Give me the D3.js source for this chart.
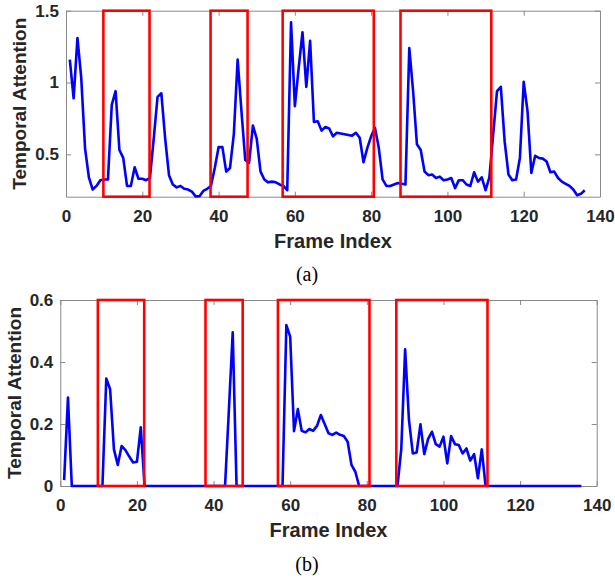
<!DOCTYPE html>
<html>
<head>
<meta charset="utf-8">
<script src="https://cdn.jsdelivr.net/npm/d3@7"></script>
<style>
  html, body { margin: 0; padding: 0; background: #fff; }
  svg { display: block; }
  .tick text { font-family: "Liberation Sans", Arial, sans-serif; font-weight: bold; font-size: 17px; fill: #262626; }
</style>
</head>
<body>
<div id="chart"></div>
<script>
// frame indices 1..136
const frames = d3.range(1, 137);

// (a) temporal attention, before thresholding
const attentionA = [
  1.16, 0.89, 1.31, 1.03, 0.54, 0.34, 0.255, 0.28, 0.32, 0.325,
  0.325, 0.845, 0.94, 0.53, 0.475, 0.28, 0.28, 0.41, 0.33, 0.33,
  0.32, 0.335, 0.61, 0.90, 0.925, 0.61, 0.355, 0.29, 0.27, 0.28,
  0.26, 0.255, 0.24, 0.207, 0.208, 0.245, 0.26, 0.28, 0.405, 0.55,
  0.55, 0.38, 0.405, 0.64, 1.16, 0.80, 0.46, 0.44, 0.70, 0.61,
  0.38, 0.325, 0.305, 0.31, 0.305, 0.29, 0.28, 0.25, 1.42, 0.835,
  1.10, 1.35, 0.97, 1.29, 0.725, 0.73, 0.665, 0.69, 0.68, 0.625,
  0.65, 0.645, 0.64, 0.635, 0.63, 0.65, 0.615, 0.445, 0.545, 0.625,
  0.685, 0.545, 0.325, 0.28, 0.28, 0.29, 0.30, 0.295, 0.29, 1.24,
  0.94, 0.57, 0.53, 0.38, 0.355, 0.36, 0.335, 0.345, 0.32, 0.325,
  0.335, 0.265, 0.32, 0.32, 0.29, 0.28, 0.375, 0.31, 0.34, 0.25,
  0.34, 0.64, 0.94, 0.97, 0.59, 0.36, 0.32, 0.325, 0.475, 1.005,
  0.80, 0.37, 0.49, 0.475, 0.47, 0.45, 0.375, 0.38, 0.335, 0.31,
  0.295, 0.28, 0.255, 0.215, 0.225, 0.25
];

// (b) temporal attention, after thresholding
const attentionB = [
  0.019, 0.285, 0, 0, 0, 0, 0, 0, 0, 0,
  0, 0.347, 0.312, 0.118, 0.068, 0.129, 0.116, 0.095, 0.076, 0.078,
  0.189, 0, 0, 0, 0, 0, 0, 0, 0, 0,
  0, 0, 0, 0, 0, 0, 0, 0, 0, 0,
  0, 0, 0, 0.245, 0.496, 0, 0, 0, 0, 0,
  0, 0, 0, 0, 0, 0, 0, 0, 0.519, 0.482,
  0.177, 0.248, 0.178, 0.173, 0.184, 0.178, 0.194, 0.229, 0.2, 0.17,
  0.165, 0.172, 0.165, 0.161, 0.143, 0.068, 0.046, 0, 0, 0,
  0, 0, 0, 0, 0, 0, 0, 0, 0.12, 0.441,
  0.213, 0.105, 0.108, 0.199, 0.103, 0.152, 0.175, 0.135, 0.127, 0.159,
  0.073, 0.161, 0.135, 0.132, 0.105, 0.121, 0.082, 0.103, 0.025, 0.118,
  0, 0, 0, 0, 0, 0, 0, 0, 0, 0,
  0, 0, 0, 0, 0, 0, 0, 0, 0, 0,
  0, 0, 0, 0, 0, 0
];

// highlighted segments (frame ranges)
const segments = [[9.8, 21.9], [37.9, 47.6], [56.8, 80.7], [87.7, 111.5]];

const xTicks = [0, 20, 40, 60, 80, 100, 120, 140];
const yTicksA = [0.5, 1, 1.5];
const yTicksB = [0, 0.2, 0.4, 0.6];

const W = 615, H = 580;
const svg = d3.select("#chart").append("svg").attr("width", W).attr("height", H);

function drawPanel(opt) {
  const x = d3.scaleLinear().domain([0, 140]).range([opt.left, opt.right]);
  const y = d3.scaleLinear().domain(opt.yDomain).range([opt.bottom, opt.top]);
  const g = svg.append("g");

  // box + inward ticks on all four sides
  const axes = [
    { a: d3.axisBottom(x).tickValues(xTicks).tickFormat(d3.format("d")), t: `translate(0,${opt.bottom})`, labels: true },
    { a: d3.axisTop(x).tickValues(xTicks), t: `translate(0,${opt.top})`, labels: false },
    { a: d3.axisLeft(y).tickValues(opt.yTicks).tickFormat(d => String(d)), t: `translate(${opt.left},0)`, labels: true },
    { a: d3.axisRight(y).tickValues(opt.yTicks), t: `translate(${opt.right},0)`, labels: false }
  ];
  axes.forEach((ax, i) => {
    ax.a.tickSizeInner(-5).tickSizeOuter(0).tickPadding(i === 0 ? 13 : 7);
    const ag = g.append("g").attr("transform", ax.t).call(ax.a);
    ag.select(".domain").attr("stroke", "#8a8a8a").attr("stroke-width", 1);
    ag.selectAll(".tick line").attr("stroke", "#8a8a8a");
    if (!ax.labels) ag.selectAll(".tick text").remove();
  });

  const line = d3.line()
    .x((d, i) => x(frames[i]))
    .y(d => y(d));

  g.append("path")
    .datum(opt.values)
    .attr("fill", "none")
    .attr("stroke", "#0000ff")
    .attr("stroke-width", 2.6)
    .attr("stroke-linejoin", "round")
    .attr("d", line);

  g.selectAll("rect.seg")
    .data(segments)
    .join("rect")
    .attr("class", "seg")
    .attr("x", d => x(d[0]))
    .attr("width", d => x(d[1]) - x(d[0]))
    .attr("y", opt.top)
    .attr("height", opt.bottom - opt.top)
    .attr("fill", "none")
    .attr("stroke", "#ff0000")
    .attr("stroke-width", 2.6);

  g.append("text")
    .attr("transform", `translate(${opt.yLabelX},${(opt.top + opt.bottom) / 2}) rotate(-90)`)
    .attr("text-anchor", "middle")
    .attr("font-family", "Liberation Sans, Arial, sans-serif")
    .attr("font-weight", "bold")
    .attr("font-size", 19)
    .attr("fill", "#262626")
    .text("Temporal Attention");

  g.append("text")
    .attr("x", (opt.left + opt.right) / 2)
    .attr("y", opt.bottom + 51)
    .attr("text-anchor", "middle")
    .attr("font-family", "Liberation Sans, Arial, sans-serif")
    .attr("font-weight", "bold")
    .attr("font-size", 20)
    .attr("fill", "#262626")
    .text("Frame Index");

  g.append("text")
    .attr("x", 307)
    .attr("y", opt.captionY)
    .attr("text-anchor", "middle")
    .attr("font-family", "Liberation Serif, Times New Roman, serif")
    .attr("font-size", 20)
    .attr("fill", "#000")
    .text(opt.caption);
}

drawPanel({
  left: 66, right: 600, top: 10.7, bottom: 196.7,
  yDomain: [0.205, 1.5], yTicks: yTicksA, values: attentionA,
  yLabelX: 26, caption: "(a)", captionY: 281
});

drawPanel({
  left: 60.3, right: 596.7, top: 300, bottom: 486,
  yDomain: [0, 0.6], yTicks: yTicksB, values: attentionB,
  yLabelX: 21, caption: "(b)", captionY: 571
});
</script>
</body>
</html>
